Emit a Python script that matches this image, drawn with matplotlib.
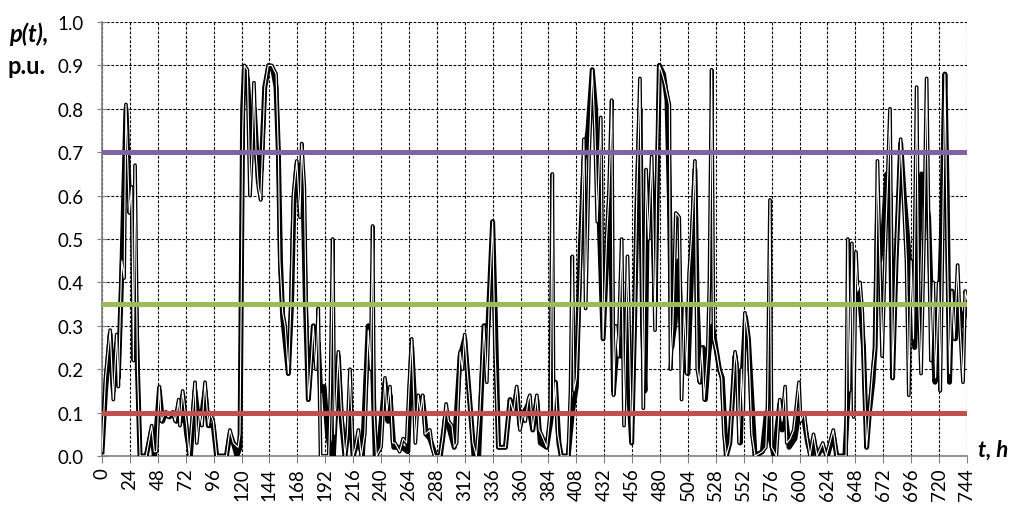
import matplotlib
matplotlib.use("Agg")
import matplotlib.pyplot as plt

plt.rcParams['font.family'] = ['Lato', 'DejaVu Sans']

# hourly wind power, p.u. (turning points)
t_thick = [0, 3, 7, 9.7, 12.6, 14, 17, 20.6, 23.5, 25.5, 28, 30.5, 32.7, 38, 42.7, 45, 49.3, 52, 55, 58,
           61, 64, 66, 68, 69.4, 72.8, 76, 80, 83, 86, 88.6, 91.5, 95.7, 98.6, 107, 110, 113, 116, 118.7,
           121, 122.4, 125, 128, 131, 134.5, 137, 140, 143.5, 147, 149.7, 151.7, 153.5, 155.4, 158, 160.3,
           163, 165, 167.5, 171, 173, 175, 177.5, 181.8, 184, 186, 188, 191, 194, 196, 199, 203.3, 206,
           209, 213.3, 216, 220.5, 224, 229, 232, 235, 238, 243.4, 246, 247.7, 251, 258, 263, 266.4, 269,
           272, 275.8, 279, 282, 287, 291, 296, 299, 303, 308, 312, 316.5, 320, 324, 328.6, 332, 336,
           338.5, 341, 347, 351, 354, 356.7, 359.5, 363, 366.7, 370.5, 374, 377, 382.5, 386, 390, 393,
           395, 401, 404.5, 408, 411, 414.5, 418, 421.7, 424.5, 427, 431, 434, 437, 440, 443, 446, 449,
           452, 455.6, 458, 460, 462.7, 465, 467, 469, 472.8, 475.7, 477.5, 479.4, 483, 486, 488, 490,
           493, 496, 498.5, 501, 504, 507, 510, 512, 514.5, 517, 519, 522, 525, 528.6, 531, 533.5, 537,
           540, 544.5, 547, 549, 551, 553.5, 556, 561.7, 568, 571.5, 574, 578, 583, 585, 587.6, 591,
           596, 599.5, 602, 604, 607, 610, 612, 615, 620, 624, 629, 632, 639, 643, 646, 649, 652, 655,
           657.7, 660, 663, 665, 667, 669, 672, 675, 678, 680, 683, 687, 690, 693, 696, 699, 702, 705,
           708, 711, 714, 716.5, 719, 722, 725, 727, 729, 731, 734, 737, 740, 744]
p_thick = [0.01, 0.15, 0.28, 0.15, 0.26, 0.18, 0.42, 0.80, 0.60, 0.60, 0.45, 0.20, 0.0, 0.0, 0.06, 0.0, 0.15, 0.08, 0.10, 0.09,
           0.10, 0.08, 0.12, 0.08, 0.14, 0.05, 0.0, 0.15, 0.08, 0.10, 0.15, 0.07, 0.07, 0.0, 0.0, 0.05, 0.03, 0.0, 0.02,
           0.80, 0.89, 0.87, 0.75, 0.80, 0.63, 0.66, 0.85, 0.90, 0.89, 0.85, 0.70, 0.45, 0.32, 0.25, 0.19,
           0.35, 0.58, 0.67, 0.67, 0.60, 0.35, 0.13, 0.30, 0.22, 0.26, 0.15, 0.16, 0.05, 0.02, 0.0, 0.23, 0.08,
           0.0, 0.10, 0.0, 0.04, 0.0, 0.30, 0.28, 0.0, 0.02, 0.17, 0.08, 0.14, 0.02, 0.02, 0.01, 0.25, 0.12,
           0.12, 0.13, 0.05, 0.04, 0.0, 0.0, 0.10, 0.06, 0.02, 0.23, 0.27, 0.12, 0.0, 0.0, 0.30, 0.30, 0.54,
           0.30, 0.02, 0.02, 0.13, 0.10, 0.15, 0.07, 0.10, 0.12, 0.06, 0.13, 0.03, 0.02, 0.08, 0.17, 0.03,
           0.0, 0.0, 0.10, 0.16, 0.45, 0.68, 0.75, 0.89, 0.80, 0.60, 0.27, 0.45, 0.61, 0.15, 0.25, 0.23, 0.30,
           0.20, 0.03, 0.30, 0.55, 0.80, 0.30, 0.15, 0.55, 0.65, 0.35, 0.60, 0.90, 0.88, 0.82, 0.60, 0.25,
           0.31, 0.45, 0.25, 0.20, 0.19, 0.42, 0.66, 0.35, 0.17, 0.25, 0.13, 0.24, 0.30, 0.24, 0.20, 0.18, 0.0,
           0.03, 0.23, 0.18, 0.03, 0.20, 0.32, 0.27, 0.0, 0.01, 0.10, 0.05, 0.0, 0.12, 0.06, 0.10, 0.02,
           0.04, 0.10, 0.09, 0.08, 0.03, 0.0, 0.04, 0.0, 0.02, 0.0, 0.05, 0.0, 0.0, 0.20, 0.32, 0.38, 0.36, 0.25,
           0.02, 0.10, 0.17, 0.25, 0.55, 0.45, 0.52, 0.65, 0.60, 0.18, 0.45, 0.72, 0.60, 0.50, 0.40, 0.25, 0.45, 0.65,
           0.60, 0.55, 0.30, 0.17, 0.25, 0.50, 0.88, 0.60, 0.17, 0.38, 0.27, 0.35, 0.30, 0.35]

t_thin = [0, 3, 7, 9.7, 12.6, 14, 17, 19, 20.6, 23.5, 25.5, 27, 28.4, 30.5, 32.7, 38, 42.7, 45, 47, 49.3,
          51, 54, 57, 61, 63, 66, 67, 69.4, 72.8, 75, 78, 80, 81.5, 84, 86, 88.6, 91.5, 93, 95.7, 98.6,
          107, 110, 113, 117, 118.7, 121, 122.4, 125, 127.3, 129, 130.7, 132.5, 134.5, 136.5, 140, 143,
          146, 149.7, 151.7, 153, 155.4, 157.5, 160.3, 162.5, 164.6, 167.5, 170.3, 171.8, 174, 175.5,
          177.5, 180, 181.8, 184, 186, 188, 195, 196.5, 198.4, 200, 203.3, 206, 209, 211, 213.3, 216,
          218, 220.5, 223, 226, 229, 231, 232.8, 234, 236, 240, 243.4, 245, 247.7, 250, 252, 256, 259,
          262, 264, 266.4, 268, 269.5, 272, 274, 275.8, 278, 282, 284, 286, 290.7, 293, 296, 298, 301,
          303, 305, 308, 310, 312, 314, 316.5, 319, 322, 325, 328.6, 331, 333, 336, 338, 341, 347, 351,
          354, 356.7, 359.5, 362, 364, 366.7, 368, 370.5, 374, 376, 378, 382.5, 385.5, 387.3, 388.5,
          390, 392, 395, 401, 403, 404.5, 406, 408, 411, 414.5, 416, 419, 421.7, 424, 426, 429, 431,
          434, 436, 438.4, 440, 442, 444, 447, 449, 452, 455.6, 458, 460, 462.7, 465.6, 468, 470, 472.8,
          475.7, 477, 479.4, 482, 484, 488, 489, 491, 493.6, 496.5, 497.5, 498.5, 501, 503, 505, 507,
          510, 512, 514, 516, 518, 521, 522.5, 524.4, 526, 528.6, 531, 533, 535, 537, 540, 544.5, 546,
          548, 550, 551.5, 553, 556, 559, 561.7, 568, 571, 572.5, 574.6, 576, 580, 583, 585, 587.6,
          589, 592, 595, 599.5, 601, 604, 606, 609, 612, 615, 620, 623, 627, 629, 632, 640, 641.5, 643,
          645, 646.5, 648.5, 650, 652, 654, 656, 657.7, 660, 663, 665, 667, 669, 671, 674, 677.8, 680,
          683, 687, 689, 692, 694, 696, 698, 700.7, 702.5, 704.5, 707, 709.3, 711, 713, 715, 717,
          719.6, 721, 723, 725, 727, 729, 731, 733, 736, 738, 740.6, 742.5, 744]
p_thin = [0.01, 0.18, 0.29, 0.13, 0.28, 0.16, 0.45, 0.41, 0.81, 0.56, 0.62, 0.22, 0.67, 0.20, 0.0, 0.0, 0.07, 0.01, 0.01, 0.16,
          0.08, 0.10, 0.09, 0.10, 0.08, 0.13, 0.07, 0.15, 0.07, 0.0, 0.10, 0.17, 0.03, 0.10, 0.07, 0.17, 0.07, 0.10, 0.08, 0.0,
          0.0, 0.06, 0.03, 0.02, 0.05, 0.75, 0.90, 0.89, 0.60, 0.70, 0.86, 0.70, 0.62, 0.59, 0.85, 0.90,
          0.90, 0.88, 0.70, 0.45, 0.33, 0.30, 0.19, 0.35, 0.60, 0.68, 0.55, 0.72, 0.62, 0.35,
          0.13, 0.22, 0.30, 0.20, 0.34, 0.0, 0.0, 0.15, 0.50, 0.05, 0.24, 0.10, 0.0, 0.05, 0.20, 0.0,
          0.02, 0.06, 0.0, 0.05, 0.29, 0.20, 0.53, 0.10, 0.0, 0.02, 0.18, 0.10, 0.16, 0.03, 0.03, 0.01, 0.04,
          0.03, 0.15, 0.27, 0.15, 0.03, 0.14, 0.10, 0.14, 0.05, 0.06, 0.02, 0.0, 0.0, 0.04, 0.12, 0.08, 0.07,
          0.02, 0.03, 0.24, 0.20, 0.28, 0.20, 0.12, 0.03, 0.0, 0.10, 0.30, 0.17, 0.35, 0.54, 0.25, 0.02, 0.02, 0.13,
          0.10, 0.16, 0.06, 0.10, 0.08, 0.13, 0.14, 0.06, 0.14, 0.06, 0.05, 0.02, 0.10, 0.65, 0.10,
          0.17, 0.05, 0.0, 0.0, 0.15, 0.46, 0.15, 0.18, 0.40, 0.73, 0.34, 0.70, 0.89, 0.75, 0.54, 0.78, 0.27,
          0.50, 0.60, 0.82, 0.14, 0.30, 0.23, 0.50, 0.07, 0.46, 0.03, 0.30, 0.60, 0.87, 0.11, 0.66, 0.50, 0.69,
          0.29, 0.60, 0.90, 0.88, 0.86, 0.81, 0.20, 0.30, 0.56, 0.55, 0.37, 0.13, 0.35, 0.19, 0.42, 0.50,
          0.68, 0.20, 0.17, 0.25, 0.13, 0.24, 0.40, 0.89, 0.27, 0.24, 0.20, 0.18, 0.05, 0.0, 0.03, 0.24, 0.21,
          0.03, 0.20, 0.10, 0.33, 0.27, 0.05, 0.0, 0.01, 0.02, 0.12, 0.59, 0.02, 0.0, 0.13, 0.08, 0.16,
          0.03, 0.04, 0.06, 0.17, 0.08, 0.10, 0.05, 0.0, 0.05, 0.0, 0.03, 0.0, 0.04, 0.06, 0.0, 0.0, 0.50, 0.15,
          0.49, 0.09, 0.47, 0.38, 0.40, 0.33, 0.15, 0.02, 0.10, 0.20, 0.25, 0.68, 0.45, 0.23, 0.50, 0.80, 0.18,
          0.45, 0.73, 0.62, 0.45, 0.14, 0.45, 0.27, 0.85, 0.35, 0.19, 0.50, 0.87, 0.54, 0.22, 0.40, 0.18,
          0.40, 0.15, 0.50, 0.88, 0.50, 0.19, 0.38, 0.27, 0.44, 0.30, 0.17, 0.38, 0.36]

# threshold levels
levels = [0.1, 0.35, 0.7]
level_colors = ['#C0504D', '#9BBB59', '#8064A2']

x_ticks = list(range(0, 745, 24))
y_ticks = [i / 10 for i in range(11)]

fig = plt.figure(figsize=(10.12, 5.1), dpi=100)
ax = fig.add_axes([0.1008, 0.1039, 0.8547, 0.851])

ax.plot(t_thick, p_thick, color='black', lw=3.6, solid_joinstyle='round', zorder=3)
ax.plot(t_thin, p_thin, color='black', lw=2.7, solid_joinstyle='round', zorder=4)
ax.plot(t_thin, p_thin, color='white', lw=0.8, solid_joinstyle='round', zorder=5)

for lv, c in zip(levels, level_colors):
    ax.axhline(lv, color=c, lw=3.6, zorder=6)

ax.set_xlim(0, 744)
ax.set_ylim(0, 1.0)
ax.set_xticks(x_ticks)
ax.set_xticklabels([str(x) for x in x_ticks], rotation=90, fontsize=13.5)
ax.set_yticks(y_ticks)
ax.set_yticklabels([f'{y:.1f}' for y in y_ticks], fontsize=13.5)

ax.grid(True, color='black', linestyle=(0, (2.5, 1.5)), lw=0.8, zorder=1)
ax.set_axisbelow(True)
for s in ['top', 'right']:
    ax.spines[s].set_visible(False)
for s in ['left', 'bottom']:
    ax.spines[s].set_color('#808080')
    ax.spines[s].set_linewidth(1.2)
ax.tick_params(axis='x', direction='out', length=5, color='#808080', pad=3)
ax.tick_params(axis='y', direction='inout', length=7, color='#808080', pad=10)

fig.text(0.009, 0.932, 'p(t),', fontsize=17, fontweight='bold', style='italic', ha='left', va='center')
fig.text(0.007, 0.870, 'p.u.', fontsize=17, fontweight='bold', ha='left', va='center')
fig.text(0.966, 0.117, 't, h', fontsize=16, fontweight='bold', style='italic', ha='left', va='center')

fig.savefig('out.png', dpi=100)
